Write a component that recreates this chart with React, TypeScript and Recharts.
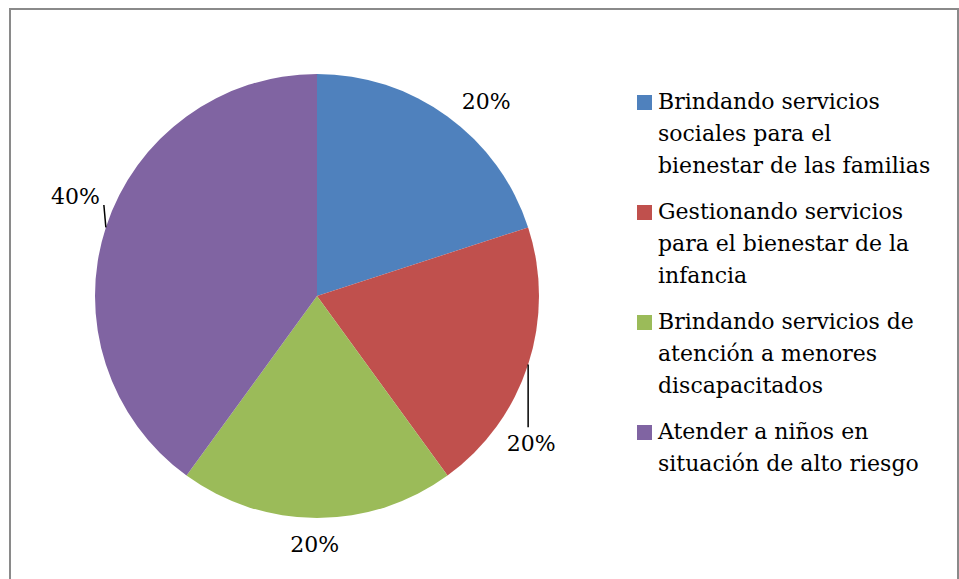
import { PieChart, Pie, Cell, Legend } from "recharts";

const categories = [
  "Brindando servicios\nsociales para el\nbienestar de las familias",
  "Gestionando servicios\npara el bienestar de la\ninfancia",
  "Brindando servicios de\natención a menores\ndiscapacitados",
  "Atender a niños en\nsituación de alto riesgo",
];
const values = [20, 20, 20, 40];
const colors = ["#4F81BD", "#C0504D", "#9BBB59", "#8064A2"];

// Excel-like manual label placement: angle shift from slice middle, distance beyond the rim
const labelAngleShift = [-5, -16.5, -0.5, -4.3];
const labelGap = [36, 38, 27, 39];
const hasLeader = [false, true, false, true];

const FONT = "'DejaVu Serif', serif";
const RAD = Math.PI / 180;

const data = categories.map((name, i) => ({ name, value: values[i] }));

function renderLabel(props: any) {
  const { cx, cy, midAngle, outerRadius, percent, index } = props;
  const a = (midAngle + labelAngleShift[index]) * RAD;
  const r = outerRadius + labelGap[index];
  const x = cx + r * Math.cos(a);
  const y = cy - r * Math.sin(a);
  const ex = cx + outerRadius * Math.cos(midAngle * RAD);
  const ey = cy - outerRadius * Math.sin(midAngle * RAD);
  const endY = y > ey ? y - 16 : y + 8;
  return (
    <g key={`lbl-${index}`}>
      {hasLeader[index] && (
        <line x1={ex} y1={ey} x2={ex - (y > ey ? 0 : 2)} y2={endY} stroke="#000" strokeWidth={1.5} />
      )}
      <text
        x={x}
        y={y}
        textAnchor="middle"
        dominantBaseline="central"
        fill="#000"
        style={{ fontFamily: FONT, fontSize: 22 }}
      >
        {`${Math.round(percent * 100)}%`}
      </text>
    </g>
  );
}

function LegendContent() {
  return (
    <div style={{ fontFamily: FONT, fontSize: 22, color: "#000" }}>
      {data.map((d, i) => (
        <div key={d.name} style={{ display: "flex", alignItems: "flex-start", marginBottom: 14 }}>
          <div
            style={{
              width: 15,
              height: 15,
              background: colors[i],
              marginTop: 9,
              marginRight: 6,
              flexShrink: 0,
            }}
          />
          <div style={{ whiteSpace: "pre-line", lineHeight: "32px" }}>{d.name}</div>
        </div>
      ))}
    </div>
  );
}

export default function App() {
  return (
    <div
      style={{
        position: "absolute",
        left: 0,
        top: 0,
        width: 959,
        height: 579,
        overflow: "hidden",
        background: "#fff",
      }}
    >
      <div
        style={{
          position: "absolute",
          left: 9,
          top: 8,
          width: 946,
          height: 620,
          border: "2px solid #8a8a8a",
        }}
      />
      <div style={{ position: "absolute", left: 0, top: 0 }}>
        <PieChart width={959} height={579}>
          <Pie
            data={data}
            dataKey="value"
            nameKey="name"
            cx={312}
            cy={291}
            outerRadius={222}
            startAngle={90}
            endAngle={-270}
            stroke="none"
            label={renderLabel}
            labelLine={false}
            isAnimationActive={false}
          >
            {data.map((d, i) => (
              <Cell key={d.name} fill={colors[i]} />
            ))}
          </Pie>
          <Legend
            content={<LegendContent />}
            layout="vertical"
            wrapperStyle={{ position: "absolute", left: 637, top: 86, width: 310 }}
          />
        </PieChart>
      </div>
    </div>
  );
}
